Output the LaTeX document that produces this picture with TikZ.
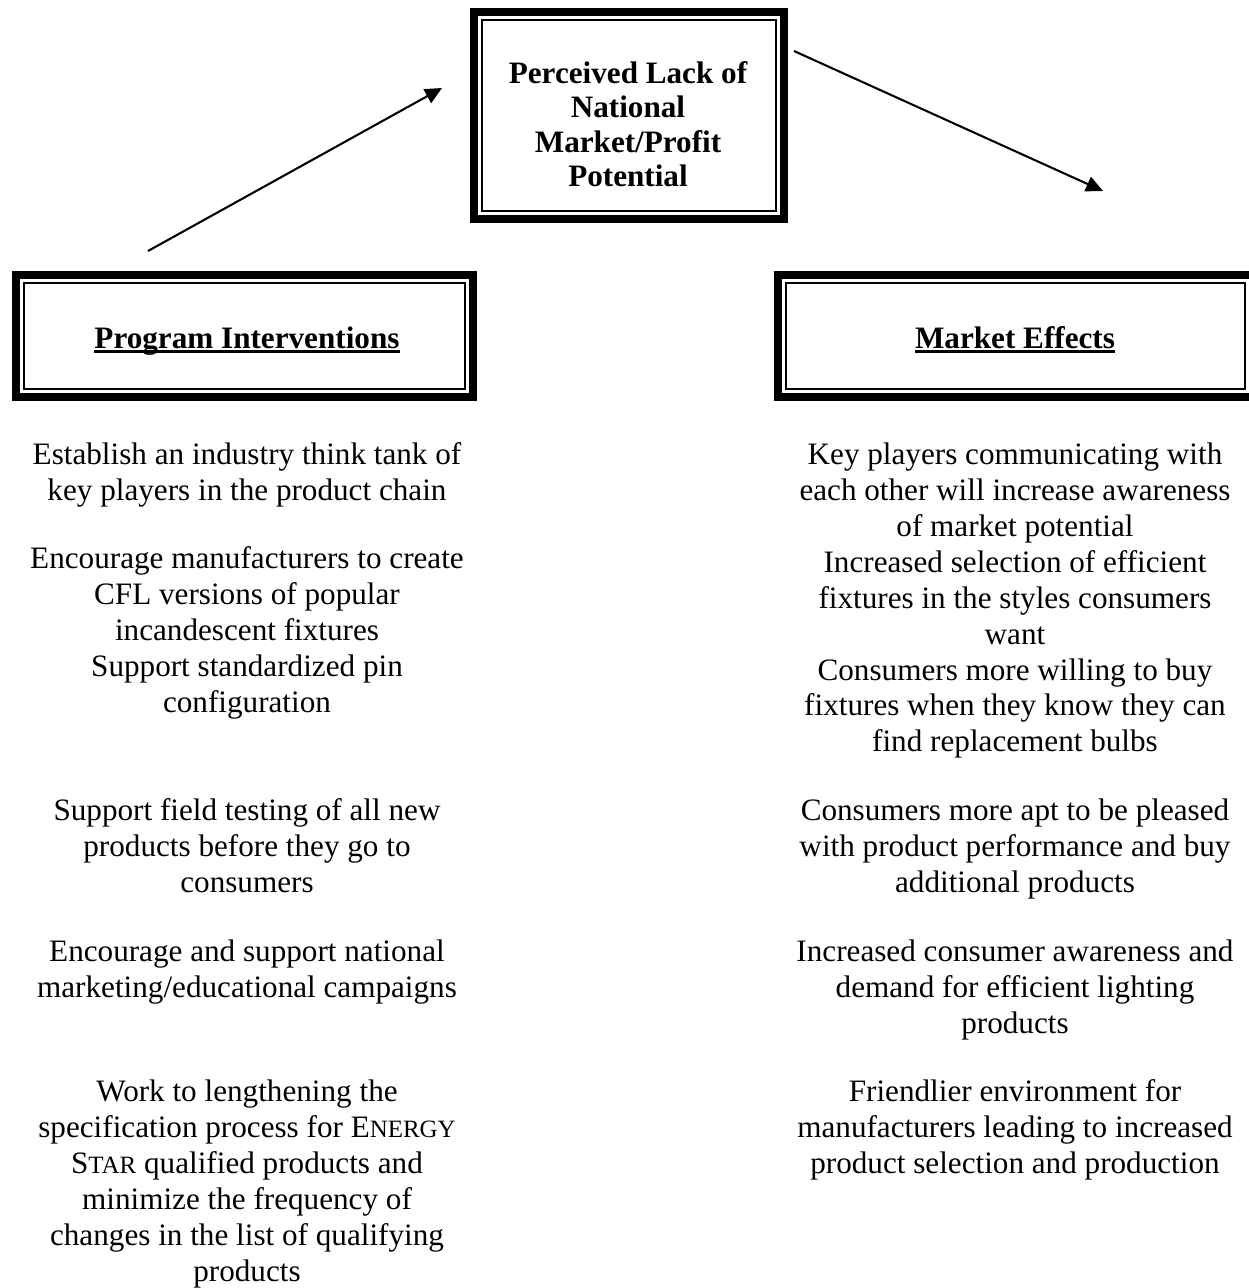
\documentclass[tikz,border=0pt]{standalone}
\usepackage{fontspec}
\setmainfont{Liberation Serif}
\usetikzlibrary{arrows.meta}
\newsavebox{\headbox}
\newcommand{\headline}[1]{\sbox{\headbox}{#1}\rlap{\usebox{\headbox}}\rule[-1.9pt]{\wd\headbox}{1.1pt}}
\newcommand{\fakesc}[1]{{\fontsize{9.6}{13.85}\selectfont #1}}

\begin{document}
\begin{tikzpicture}[x = 0.385pt, y = -0.385pt]
	\tikzstyle{frameStyle} = [draw, line width = 3.1pt, inner sep = 0pt,
		path picture = {\draw[line width = 0.77pt] ([shift = {(3.1pt,-3.1pt)}]path picture bounding box.north west) rectangle ([shift = {(-3.1pt,3.1pt)}]path picture bounding box.south east);}]
	\tikzstyle{titleStyle} = [inner sep = 0pt, align = center, font = \fontsize{12}{13.2}\selectfont\bfseries]
	\tikzstyle{headStyle} = [inner sep = 0pt, anchor = base, font = \fontsize{12}{13.85}\selectfont\bfseries]
	\tikzstyle{itemStyle} = [inner sep = 0pt, align = center, anchor = north, font = \fontsize{12}{13.85}\selectfont]
	\tikzstyle{arrowStyle} = [line width = 0.8pt, -{Triangle[length = 6.5pt, width = 6pt]}]
	\useasboundingbox (0,0) rectangle (1248,1288);
	% boxes
	\node[frameStyle, minimum width = 119.4pt, minimum height = 79.7pt] (lack) at (629,115.5) {};
	\node[frameStyle, minimum width = 175.9pt, minimum height = 47pt] (interv) at (244.5,336) {};
	\node[frameStyle, minimum width = 182.9pt, minimum height = 47pt] (effects) at (1015.5,336) {};
	\node[titleStyle, anchor = north] (lack-title) at (628,61) {Perceived Lack of\\National\\Market/Profit\\Potential};
	\node[headStyle] (interv-title) at (247,348) {\headline{Program Interventions}};
	\node[headStyle] (effects-title) at (1015,348) {\headline{Market Effects}};
	% arrows
	\coordinate (up-start) at (148,251);
	\coordinate (up-end) at (442,88);
	\coordinate (down-start) at (794,51);
	\coordinate (down-end) at (1103,191);
	\draw[arrowStyle] (up-start) -- (up-end);
	\draw[arrowStyle] (down-start) -- (down-end);
	% program interventions
	\node[itemStyle] (int1) at (247,442) {Establish an industry think tank of\\key players in the product chain};
	\node[itemStyle] (int2) at (247,546) {Encourage manufacturers to create\\CFL versions of popular\\incandescent fixtures\\Support standardized pin\\configuration};
	\node[itemStyle] (int3) at (247,798) {Support field testing of all new\\products before they go to\\consumers};
	\node[itemStyle] (int4) at (247,939) {Encourage and support national\\marketing/educational campaigns};
	\node[itemStyle] (int5) at (247,1079) {Work to lengthening the\\specification process for E\fakesc{NERGY}\\S\fakesc{TAR} qualified products and\\minimize the frequency of\\changes in the list of qualifying\\products};
	% market effects
	\node[itemStyle] (eff1) at (1015,442) {Key players communicating with\\each other will increase awareness\\of market potential\\Increased selection of efficient\\fixtures in the styles consumers\\want\\Consumers more willing to buy\\fixtures when they know they can\\find replacement bulbs};
	\node[itemStyle] (eff2) at (1015,798) {Consumers more apt to be pleased\\with product performance and buy\\additional products};
	\node[itemStyle] (eff3) at (1015,939) {Increased consumer awareness and\\demand for efficient lighting\\products};
	\node[itemStyle] (eff4) at (1015,1079) {Friendlier environment for\\manufacturers leading to increased\\product selection and production};
\end{tikzpicture}
\end{document}
